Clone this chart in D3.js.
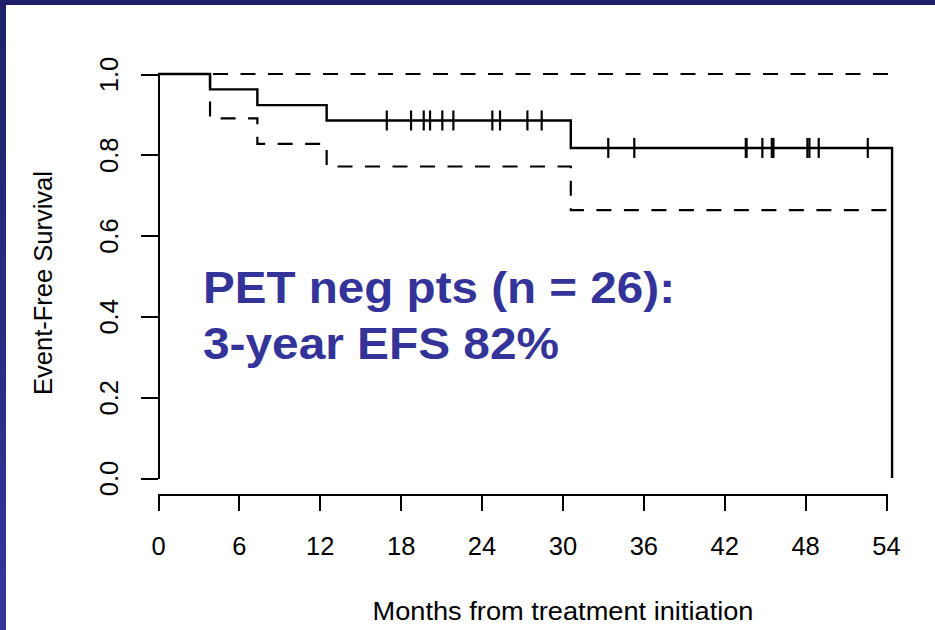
<!DOCTYPE html>
<html>
<head>
<meta charset="utf-8">
<script src="https://cdn.jsdelivr.net/npm/d3@7"></script>
<style>
  html, body { margin: 0; padding: 0; background: #ffffff; }
  svg { display: block; }
  text { font-family: "Liberation Sans", Arial, Helvetica, sans-serif; }
</style>
</head>
<body>
<svg id="chart" width="935" height="630"></svg>
<script>
// Kaplan-Meier step curve: times (months) where the estimate changes, and its value from that time on
const stepTimes   = [0, 3.86, 7.37, 12.51, 30.62, 54.45];
const survival    = [1.0, 0.962, 0.923, 0.885, 0.817, 0.0];
// 95% confidence band, same steps (upper bound stays at 1)
const lowerTimes  = [3.86, 7.37, 12.51, 30.62, 54.45];
const lowerCI     = [0.890, 0.827, 0.771, 0.663, 0.663];
const upperTimes  = [0, 54.45];
const upperCI     = [1.0, 1.0];
// censored observations (months)
const censorTimes = [16.97, 18.77, 19.71, 20.18, 21.09, 21.91, 24.8, 25.37, 27.4, 28.46,
                     33.4, 35.33, 43.6, 43.66, 44.83, 45.53, 45.65, 48.17, 48.32, 49.01, 52.65];
// axis ticks and texts
const xTicks = [0, 6, 12, 18, 24, 30, 36, 42, 48, 54];
const yTicks = [0.0, 0.2, 0.4, 0.6, 0.8, 1.0];
const xTitle = "Months from treatment initiation";
const yTitle = "Event-Free Survival";
const noteLines = ["PET neg pts (n = 26):", "3-year EFS 82%"];

const svg = d3.select("#chart");
const W = 935, H = 630;

// slide frame: navy bar on top, gradient bar on the left
const defs = svg.append("defs");
const grad = defs.append("linearGradient").attr("id", "sideGrad")
  .attr("x1", 0).attr("y1", 0).attr("x2", 0).attr("y2", 1);
grad.append("stop").attr("offset", "0%").attr("stop-color", "#20206a");
grad.append("stop").attr("offset", "100%").attr("stop-color", "#35359c");
svg.append("rect").attr("x", 0).attr("y", 0).attr("width", W).attr("height", H).attr("fill", "#ffffff");
svg.append("rect").attr("x", 0).attr("y", 0).attr("width", 6).attr("height", H).attr("fill", "url(#sideGrad)");
svg.append("rect").attr("x", 0).attr("y", 0).attr("width", W).attr("height", 5).attr("fill", "#20206a");

const x = d3.scaleLinear().domain([0, 54]).range([158, 886]);
const y = d3.scaleLinear().domain([0, 1]).range([478, 74]);

const ink = "#000000";

// y axis
const yAxis = svg.append("g").attr("transform", "translate(158,0)")
  .call(d3.axisLeft(y).tickValues(yTicks).tickFormat(d3.format(".1f")).tickSizeInner(17).tickSizeOuter(0));
yAxis.select(".domain").attr("stroke", ink).attr("stroke-width", 2);
yAxis.selectAll(".tick line").attr("stroke", ink).attr("stroke-width", 2);
yAxis.selectAll(".tick text")
  .attr("fill", ink).attr("font-size", 25.5)
  .attr("x", 0).attr("y", -40).attr("dy", 0)
  .attr("text-anchor", "middle")
  .attr("transform", "rotate(-90)");

// x axis
const xAxis = svg.append("g").attr("transform", "translate(0,494)")
  .call(d3.axisBottom(x).tickValues(xTicks).tickFormat(d3.format("d")).tickSizeInner(17).tickSizeOuter(0));
xAxis.select(".domain").attr("stroke", ink).attr("stroke-width", 2);
xAxis.selectAll(".tick line").attr("stroke", ink).attr("stroke-width", 2);
xAxis.selectAll(".tick text")
  .attr("fill", ink).attr("font-size", 25.5)
  .attr("y", 60.5).attr("dy", 0);
svg.selectAll(".domain, .tick line").attr("shape-rendering", "crispEdges");

// axis titles
svg.append("text").attr("x", 563).attr("y", 620)
  .attr("text-anchor", "middle").attr("font-size", 25.5).attr("fill", ink)
  .attr("textLength", 381).attr("lengthAdjust", "spacingAndGlyphs")
  .text(xTitle);
svg.append("text").attr("transform", "translate(52,283) rotate(-90)")
  .attr("text-anchor", "middle").attr("font-size", 25.5).attr("fill", ink)
  .text(yTitle);

// step line generators
const stepLine = d3.line().x(d => x(d[0])).y(d => y(d[1])).curve(d3.curveStepAfter);

const kmPts = stepTimes.map((t, i) => [t, survival[i]]);
const lowPts = [[lowerTimes[0], 1.0]].concat(lowerTimes.map((t, i) => [t, lowerCI[i]]));
const upPts = upperTimes.map((t, i) => [t, upperCI[i]]);

const dash = "15,12.5";
svg.append("path").attr("d", stepLine(upPts))
  .attr("fill", "none").attr("stroke", ink).attr("stroke-width", 2.2).attr("stroke-dasharray", dash);
svg.append("path").attr("d", stepLine(lowPts))
  .attr("fill", "none").attr("stroke", ink).attr("stroke-width", 2.2).attr("stroke-dasharray", dash);
svg.append("path").attr("d", stepLine(kmPts))
  .attr("fill", "none").attr("stroke", ink).attr("stroke-width", 2.4);

// censoring marks sit on the curve value at that time
const survAt = t => survival[d3.bisectRight(stepTimes, t) - 1];
svg.append("g").selectAll("line").data(censorTimes).join("line")
  .attr("x1", d => x(d)).attr("x2", d => x(d))
  .attr("y1", d => y(survAt(d)) - 10).attr("y2", d => y(survAt(d)) + 10)
  .attr("stroke", ink).attr("stroke-width", 2.2);

// annotation
const note = svg.append("g").attr("fill", "#333399").attr("font-weight", "bold").attr("font-size", 45);
note.append("text").attr("x", 203).attr("y", 303)
  .attr("textLength", 472).attr("lengthAdjust", "spacingAndGlyphs").text(noteLines[0]);
note.append("text").attr("x", 203).attr("y", 359)
  .attr("textLength", 356).attr("lengthAdjust", "spacingAndGlyphs").text(noteLines[1]);
</script>
</body>
</html>
